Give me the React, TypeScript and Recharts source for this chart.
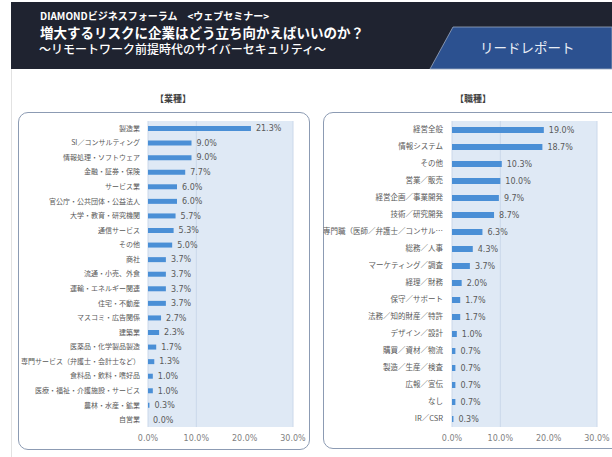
import { BarChart, Bar, XAxis, YAxis, CartesianGrid, LabelList } from 'recharts';

const industryNames = [
  '製造業', 'SI／コンサルティング', '情報処理・ソフトウェア', '金融・証券・保険', 'サービス業',
  '官公庁・公共団体・公益法人', '大学・教育・研究機関', '通信サービス', 'その他', '商社',
  '流通・小売、外食', '運輸・エネルギー関連', '住宅・不動産', 'マスコミ・広告関係', '建築業',
  '医薬品・化学製品製造', '専門サービス（弁護士・会計士など）', '食料品・飲料・嗜好品',
  '医療・福祉・介護施設・サービス', '農林・水産・鉱業', '自営業',
];
const industryValues = [21.3, 9.0, 9.0, 7.7, 6.0, 6.0, 5.7, 5.3, 5.0, 3.7, 3.7, 3.7, 3.7, 2.7, 2.3, 1.7, 1.3, 1.0, 1.0, 0.3, 0.0];

const jobNames = [
  '経営全般', '情報システム', 'その他', '営業／販売', '経営企画／事業開発', '技術／研究開発',
  '専門職（医師／弁護士／コンサル…', '総務／人事', 'マーケティング／調査', '経理／財務',
  '保守／サポート', '法務／知的財産／特許', 'デザイン／設計', '購買／資材／物流',
  '製造／生産／検査', '広報／宣伝', 'なし', 'IR／CSR',
];
const jobValues = [19.0, 18.7, 10.3, 10.0, 9.7, 8.7, 6.3, 4.3, 3.7, 2.0, 1.7, 1.7, 1.0, 0.7, 0.7, 0.7, 0.7, 0.3];

const xTicks = [0, 10, 20, 30];

const industryData = industryNames.map((name, i) => ({ name, value: industryValues[i] }));
const jobData = jobNames.map((name, i) => ({ name, value: jobValues[i] }));

const JP = '"Noto Sans CJK JP", "Noto Sans", sans-serif';
const NUM = '"DejaVu Sans", sans-serif';
const pct = (v: any) => `${Number(v).toFixed(1)}%`;

function Panel({ data, width, height, axisWidth, right, barSize, labelSize, tickMargin }: any) {
  return (
    <BarChart
      width={width}
      height={height}
      data={data}
      layout="vertical"
      margin={{ top: 9, right, bottom: 0, left: 0 }}
      barSize={barSize}
    >
      <CartesianGrid horizontal={false} fill="#dfe9f5" stroke="#cbd8ea" />
      <XAxis
        type="number"
        domain={[0, 30]}
        ticks={xTicks}
        tickFormatter={pct}
        axisLine={false}
        tickLine={false}
        height={23}
        tick={{ fontSize: 8, fill: '#7f7f7f', fontFamily: NUM }}
      />
      <YAxis
        type="category"
        dataKey="name"
        width={axisWidth}
        axisLine={false}
        tickLine={false}
        interval={0}
        tickMargin={tickMargin}
        tick={{ fontSize: labelSize, fill: '#595959', fontFamily: JP }}
      />
      <Bar dataKey="value" fill="#4a8fd6" minPointSize={0.01} isAnimationActive={false}>
        <LabelList
          dataKey="value"
          position="right"
          offset={5}
          formatter={pct}
          style={{ fontSize: 8, fill: '#595959', fontFamily: NUM }}
        />
      </Bar>
    </BarChart>
  );
}

const line = { position: 'absolute' as const, color: '#fff', whiteSpace: 'nowrap' as const, lineHeight: 1 };

export default function App() {
  return (
    <div style={{ position: 'absolute', left: 0, top: 0, width: 612, height: 457, background: '#fff', overflow: 'hidden', fontFamily: JP }}>
      {/* header band */}
      <div style={{ position: 'absolute', left: 11, top: 2, width: 601, height: 67, background: '#1f2330' }} />
      <svg style={{ position: 'absolute', left: 0, top: 0 }} width={612} height={80}>
        <polygon points="453,27 612,27 612,69 430,69" fill="#2c5190" stroke="#9aa8c0" strokeWidth={0.8} />
      </svg>
      <div style={{ ...line, left: 40, top: 11, fontSize: 10, fontWeight: 700 }}>
        DIAMONDビジネスフォーラム　&lt;ウェブセミナー&gt;
      </div>
      <div style={{ ...line, left: 40, top: 26, fontSize: 13.5, fontWeight: 700 }}>
        増大するリスクに企業はどう立ち向かえばいいのか？
      </div>
      <div style={{ ...line, left: 39, top: 43, fontSize: 12, fontWeight: 500 }}>
        ～リモートワーク前提時代のサイバーセキュリティ～
      </div>
      <div style={{ ...line, left: 480, top: 41, color: '#e8edf5', fontSize: 13.5 }}>
        リードレポート
      </div>

      {/* left page edge */}
      <div style={{ position: 'absolute', left: 11, top: 69, width: 0, height: 388, borderLeft: '1px solid #e2e2e2' }} />

      {/* panel titles */}
      <div style={{ position: 'absolute', left: 133, top: 94, width: 80, textAlign: 'center', fontSize: 9, lineHeight: 1, fontWeight: 700, color: '#404040' }}>【業種】</div>
      <div style={{ position: 'absolute', left: 433, top: 94, width: 80, textAlign: 'center', fontSize: 9, lineHeight: 1, fontWeight: 700, color: '#404040' }}>【職種】</div>

      {/* left panel */}
      <div style={{ position: 'absolute', left: 18, top: 112, width: 292, height: 338, boxSizing: 'border-box', border: '1px solid #8c9bb3', borderRadius: 10 }} />
      <div style={{ position: 'absolute', left: 18, top: 112 }}>
        <Panel data={industryData} width={292} height={338} axisWidth={130} right={17} barSize={5} labelSize={7} tickMargin={2} />
      </div>

      {/* right panel */}
      <div style={{ position: 'absolute', left: 323, top: 112, width: 300, height: 337, boxSizing: 'border-box', border: '1px solid #8c9bb3', borderRadius: 10 }} />
      <div style={{ position: 'absolute', left: 323, top: 112 }}>
        <Panel data={jobData} width={289} height={338} axisWidth={129} right={15} barSize={6} labelSize={7.5} tickMargin={3} />
      </div>
    </div>
  );
}
